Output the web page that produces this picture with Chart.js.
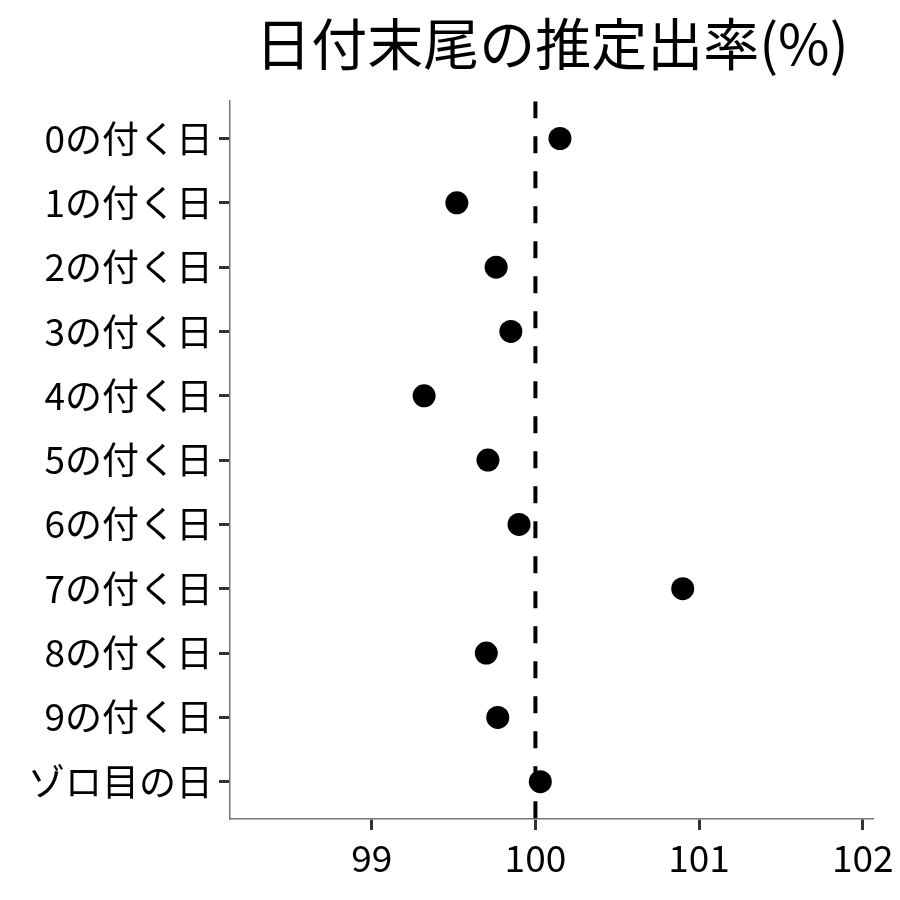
<!DOCTYPE html>
<html>
<head>
<meta charset="utf-8">
<script src="https://cdn.jsdelivr.net/npm/chart.js@4.4.0/dist/chart.umd.min.js"></script>
<style>
  html, body { margin: 0; padding: 0; background: #fff; }
</style>
</head>
<body>
<canvas id="myChart" width="900" height="900"></canvas>
<script>
const categories = [
    "0の付く日",
    "1の付く日",
    "2の付く日",
    "3の付く日",
    "4の付く日",
    "5の付く日",
    "6の付く日",
    "7の付く日",
    "8の付く日",
    "9の付く日",
    "ゾロ目の日",
];

const rates = [100.15, 99.52, 99.76, 99.85, 99.32, 99.71, 99.90, 100.90, 99.70, 99.77, 100.03];

const xTicks = [99, 100, 101, 102];
const refValue = 100;

const font = "'Noto Sans CJK JP', 'Noto Sans', sans-serif";
const yMin = -0.58;
const yMax = categories.length - 1 + 0.58;

const data = {
    datasets: [
        {
            type: "scatter",
            data: rates.map((v, i) => ({ x: v, y: i })),
            backgroundColor: "#000",
            borderWidth: 0,
            pointRadius: 11.5,
            order: 1,
        },
        {
            type: "line",
            data: [{ x: refValue, y: yMin }, { x: refValue, y: yMax }],
            borderColor: "#000",
            borderWidth: 4,
            borderDash: [17, 18],
            pointRadius: 0,
            order: 2,
        },
    ],
};

const config = {
    type: "scatter",
    data: data,
    options: {
        responsive: false,
        animation: false,
        layout: {
            padding: { left: 0, right: 25, top: 0, bottom: 0 },
        },
        plugins: {
            legend: { display: false },
            tooltip: { enabled: false },
            title: {
                display: true,
                text: "日付末尾の推定出率(%)",
                color: "#000",
                fullSize: false,
                font: { family: font, size: 56, weight: "normal", lineHeight: 1.2 },
                padding: { top: 10, bottom: 24 },
            },
        },
        scales: {
            x: {
                type: "linear",
                min: 98.134,
                max: 102.067,
                afterBuildTicks: (scale) => {
                    scale.ticks = xTicks.map((v) => ({ value: v }));
                },
                afterFit: (scale) => {
                    scale.height = 81;
                },
                grid: {
                    drawOnChartArea: false,
                    tickLength: 11,
                    tickColor: "#333",
                    tickWidth: 3,
                },
                border: { display: true, color: "#777", width: 1.5 },
                ticks: {
                    color: "#000",
                    padding: 6,
                    font: { family: font, size: 37 },
                },
            },
            y: {
                type: "linear",
                reverse: true,
                min: yMin,
                max: yMax,
                afterBuildTicks: (scale) => {
                    scale.ticks = categories.map((c, i) => ({ value: i }));
                },
                afterFit: (scale) => {
                    scale.width = 230;
                },
                grid: {
                    drawOnChartArea: false,
                    tickLength: 11,
                    tickColor: "#333",
                    tickWidth: 3,
                },
                border: { display: true, color: "#777", width: 1.5 },
                ticks: {
                    color: "#000",
                    padding: 6,
                    font: { family: font, size: 37 },
                    callback: (value) => categories[value],
                },
            },
        },
    },
};

new Chart(document.getElementById("myChart"), config);
</script>
</body>
</html>
